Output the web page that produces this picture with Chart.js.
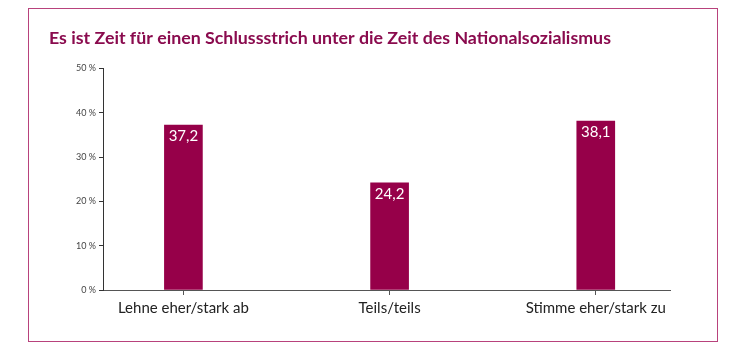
<!DOCTYPE html>
<html>
<head>
<meta charset="utf-8">
<script src="https://cdn.jsdelivr.net/npm/chart.js@4.4.0/dist/chart.umd.min.js"></script>
<style>
  html, body { margin: 0; padding: 0; background: #fff; }
  #frame {
    position: absolute;
    left: 28px; top: 8px;
    width: 688px; height: 332px;
    border: 1px solid #b8427c;
  }
</style>
</head>
<body>
<div id="frame"><canvas id="chart" width="688" height="332"></canvas></div>
<script>
const categories = ["Lehne eher/stark ab", "Teils/teils", "Stimme eher/stark zu"];
const values = [37.2, 24.2, 38.1];
const yTicks = [0, 10, 20, 30, 40, 50];

const barColor = "#960049";

// writes the value on top of each bar, inside it
const valueLabels = {
  id: "valueLabels",
  afterDatasetsDraw(chart) {
    const ctx = chart.ctx;
    const meta = chart.getDatasetMeta(0);
    ctx.save();
    ctx.fillStyle = "#fff";
    ctx.font = "15px Lato";
    ctx.textAlign = "center";
    ctx.textBaseline = "middle";
    meta.data.forEach((bar, i) => {
      ctx.fillText(values[i].toFixed(1).replace(".", ","), bar.x, bar.y + 11);
    });
    ctx.restore();
  },
};

new Chart(document.getElementById("chart"), {
  type: "bar",
  data: {
    datasets: [
      {
        data: categories.map((c, i) => ({ x: i, y: values[i] })),
        backgroundColor: barColor,
        barThickness: 38,
      },
    ],
  },
  options: {
    responsive: false,
    animation: false,
    layout: { padding: { left: 20, right: 47, top: 0, bottom: 20 } },
    plugins: {
      legend: { display: false },
      tooltip: { enabled: false },
      title: {
        display: true,
        text: "Es ist Zeit für einen Schlussstrich unter die Zeit des Nationalsozialismus",
        align: "start",
        color: "#8a0b4e",
        font: { family: "Lato", size: 17.8, weight: "bold" },
        padding: { top: 19, bottom: 19 },
      },
    },
    scales: {
      x: {
        type: "linear",
        offset: false,
        bounds: "data",
        min: -0.39,
        max: 2.36,
        afterBuildTicks: (scale) => {
          scale.ticks = categories.map((c, i) => ({ value: i }));
        },
        ticks: {
          callback: (v) => categories[v],
          color: "#222",
          font: { family: "Lato", size: 15 },
          padding: 4,
          autoSkip: false,
          maxRotation: 0,
        },
        grid: { offset: false, drawOnChartArea: false, tickLength: 5, color: "#555" },
        border: { color: "#555" },
      },
      y: {
        min: 0,
        max: 50,
        afterFit: (scale) => { scale.width = 54; },
        afterBuildTicks: (scale) => {
          scale.ticks = yTicks.map((v) => ({ value: v }));
        },
        ticks: {
          callback: (v) => v + " %",
          color: "#444",
          font: { family: "Lato", size: 9 },
          padding: 3,
        },
        grid: { drawOnChartArea: false, tickLength: 4, color: "#333" },
        border: { color: "#333" },
      },
    },
  },
  plugins: [valueLabels],
});
</script>
</body>
</html>
